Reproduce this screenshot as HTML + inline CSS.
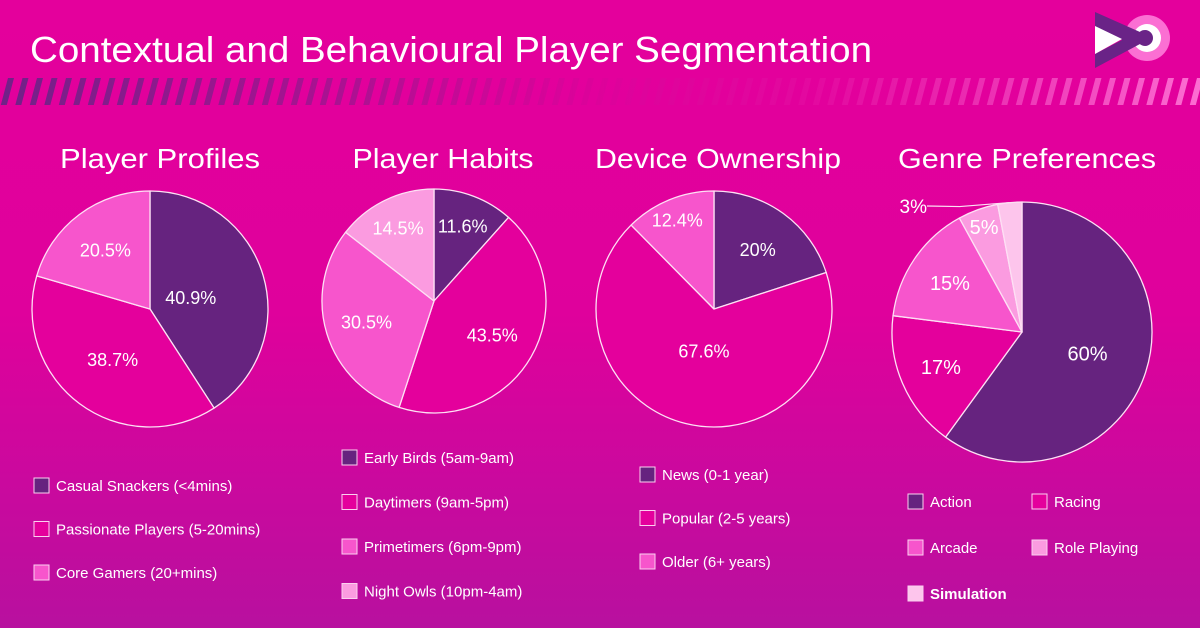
<!DOCTYPE html>
<html><head><meta charset="utf-8">
<style>
html,body{margin:0;padding:0}
body{width:1200px;height:628px;overflow:hidden;font-family:"Liberation Sans",sans-serif}
svg{display:block}
</style></head>
<body>
<svg id="chart" width="1200" height="628" viewBox="0 0 1200 628" xmlns="http://www.w3.org/2000/svg">
<defs>
<linearGradient id="bg" x1="0" y1="0" x2="0" y2="1">
<stop offset="0" stop-color="#e4009c"/><stop offset="0.5" stop-color="#df019c"/><stop offset="1" stop-color="#b8109f"/>
</linearGradient>
<linearGradient id="stripeFade" x1="0" y1="0" x2="1" y2="0">
<stop offset="0" stop-color="#6a2387" stop-opacity="0.95"/>
<stop offset="0.3" stop-color="#7a2089" stop-opacity="0.5"/>
<stop offset="0.5" stop-color="#a0168f" stop-opacity="0.08"/>
<stop offset="0.68" stop-color="#f25ac8" stop-opacity="0.1"/>
<stop offset="1" stop-color="#ff7ad8" stop-opacity="0.9"/>
</linearGradient>
<pattern id="stripes" width="14.5" height="30" patternUnits="userSpaceOnUse" x="0" y="78">
<polygon points="8,0 14,0 6,30 0,30" fill="#fff"/>
</pattern>
<mask id="stripeMask"><rect x="0" y="78" width="1200" height="27" fill="url(#stripes)"/></mask>
</defs>
<rect width="1200" height="628" fill="url(#bg)"/>
<rect x="0" y="78" width="1200" height="27" fill="url(#stripeFade)" mask="url(#stripeMask)"/>
<text x="30" y="62" fill="#fff" font-size="36" textLength="842" lengthAdjust="spacingAndGlyphs">Contextual and Behavioural Player Segmentation</text>
<g>
<circle cx="1147" cy="38" r="23" fill="#fb6fd3"/>
<circle cx="1147" cy="38" r="14" fill="#fff"/>
<polygon points="1095,12 1140,32 1140,44 1095,68 1095,54 1122,40 1095,28" fill="#6a2387"/>
<polygon points="1095,26 1122,39 1095,54" fill="#fff"/>
<circle cx="1145" cy="38" r="8" fill="#6a2387"/>
</g>
<g id="pies"></g>
</svg>
<script>
const NS='http://www.w3.org/2000/svg';
const COLORS=['#66237f','#e4009c','#f755cc','#fb9be0','#fdc5ec'];
const profileLabels=['Casual Snackers (<4mins)','Passionate Players (5-20mins)','Core Gamers (20+mins)'];
const profileValues=[40.9,38.7,20.5];
const habitLabels=['Early Birds (5am-9am)','Daytimers (9am-5pm)','Primetimers (6pm-9pm)','Night Owls (10pm-4am)'];
const habitValues=[11.6,43.5,30.5,14.5];
const deviceLabels=['News (0-1 year)','Popular (2-5 years)','Older (6+ years)'];
const deviceValues=[20,67.6,12.4];
const genreLabels=['Action','Racing','Arcade','Role Playing','Simulation'];
const genreValues=[60,17,15,5,3];

const charts=[
 {name:'player-profiles',title:'Player Profiles',tx:160,tw:200,cx:150,cy:309,r:118,labels:profileLabels,values:profileValues,fmt:v=>v+'%',
  lr:[0.36,0.53,0.63],legend:{x:34,y:486,dy:43.5,cols:1}},
 {name:'player-habits',title:'Player Habits',tx:443,tw:181,cx:434,cy:301,r:112,labels:habitLabels,values:habitValues,fmt:v=>v+'%',
  lr:[0.72,0.6,0.63,0.73],legend:{x:342,y:458,dy:44.5,cols:1}},
 {name:'device-ownership',title:'Device Ownership',tx:718,tw:246,cx:714,cy:309,r:118,labels:deviceLabels,values:deviceValues,fmt:v=>v+'%',
  lr:[0.63,0.36,0.82],legend:{x:640,y:475,dy:43.5,cols:1}},
 {name:'genre-preferences',title:'Genre Preferences',tx:1027,tw:258,cx:1022,cy:332,r:130,labels:genreLabels,values:genreValues,fmt:v=>v+'%',
  lr:[0.53,0.68,0.67,0.86,-1],legend:{x:908,y:502,dy:46,cols:2,colW:124}}
];
const root=document.getElementById('pies');
function mk(tag,attrs,parent){const e=document.createElementNS(NS,tag);for(const k in attrs)e.setAttribute(k,attrs[k]);parent.appendChild(e);return e;}
function pt(cx,cy,r,frac){const a=frac*2*Math.PI;return [cx+r*Math.sin(a),cy-r*Math.cos(a)];}
charts.forEach(c=>{
 const g=mk('g',{},root);
 
 
 const t=mk('text',{x:c.tx-c.tw/2,y:168,fill:'#fff','font-size':28,textLength:c.tw,lengthAdjust:'spacingAndGlyphs'},g);
 t.textContent=c.title;
 
 
 const total=c.values.reduce((a,b)=>a+b,0);
 let acc=0;
 c.values.forEach((v,i)=>{
  const f0=acc/total,f1=(acc+v)/total;acc+=v;
  const p0=pt(c.cx,c.cy,c.r,f0),p1=pt(c.cx,c.cy,c.r,f1);
  const large=(f1-f0)>0.5?1:0;
  const d=`M${c.cx},${c.cy}L${p0[0]},${p0[1]}A${c.r},${c.r} 0 ${large} 1 ${p1[0]},${p1[1]}Z`;
  const s=mk('path',{d:d,fill:COLORS[i],stroke:'#fde0f4','stroke-width':1.3,'stroke-linejoin':'round'},g);
  
  
  const fm=(f0+f1)/2;
  let lt;
  if(c.lr[i]>0){
   const lp=pt(c.cx,c.cy,c.r*c.lr[i],fm);
   lt=mk('text',{x:lp[0],y:lp[1]+7,'text-anchor':'middle',fill:'#fff','font-size':c.r>125?20:18},g);
  } else {
   const ep=pt(c.cx,c.cy,c.r,fm);
   const ln=mk('path',{d:`M${ep[0]},${ep[1]}L${ep[0]-50},${ep[1]+4}L${c.cx-95},${c.cy-126}`,fill:'none',stroke:'#fde0f4','stroke-width':1.2},g);
   
   
   lt=mk('text',{x:c.cx-95,y:c.cy-119,'text-anchor':'end',fill:'#fff','font-size':19},g);
  }
  lt.textContent=c.fmt(v);
  
  
  const L=c.legend;
  const col=i%L.cols,row=Math.floor(i/L.cols);
  const lx=L.x+col*(L.colW||0),ly=L.y+row*L.dy;
  const lg=mk('g',{},g);
  
  
  mk('rect',{x:lx,y:ly-8,width:15,height:15,fill:COLORS[i],stroke:'#fbd0ef','stroke-width':1},lg);
  const tx=mk('text',{x:lx+22,y:ly+5,fill:'#fff','font-size':15,'font-weight':(c.name==='genre-preferences'&&i===4)?'bold':'normal'},lg);
  tx.textContent=c.labels[i];
 });
});
</script>
</body></html>
